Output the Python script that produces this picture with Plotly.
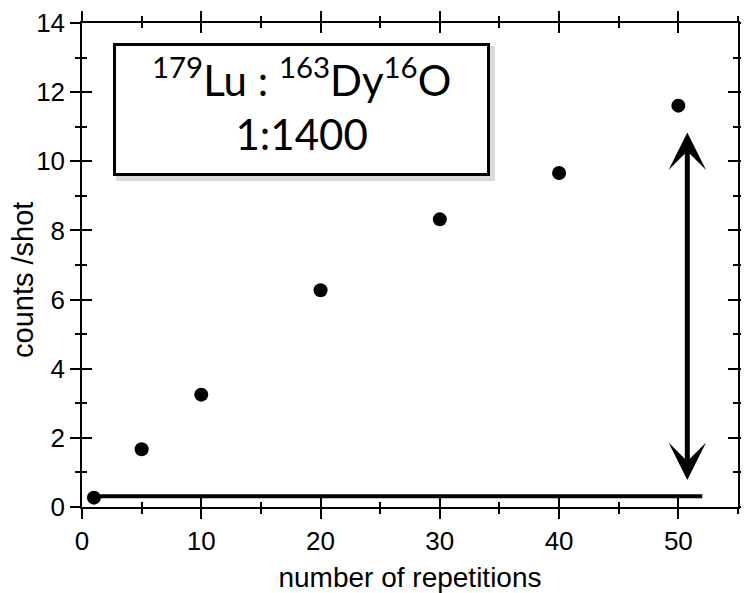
import plotly.graph_objects as go

# data
repetitions = [1, 5, 10, 20, 30, 40, 50]
counts_per_shot = [0.27, 1.67, 3.25, 6.27, 8.32, 9.66, 11.61]
baseline_x = [1, 52]
baseline_y = [0.31, 0.31]
arrow_x = 50.75
arrow_y_bottom = 0.74
arrow_y_top = 10.83
x_ticks = [0, 10, 20, 30, 40, 50]
y_ticks = [0, 2, 4, 6, 8, 10, 12, 14]

fig = go.Figure()
fig.add_trace(go.Scatter(x=baseline_x, y=baseline_y, mode="lines",
                         line=dict(color="black", width=4), showlegend=False, hoverinfo="skip"))
fig.add_trace(go.Scatter(x=repetitions, y=counts_per_shot, mode="markers",
                         marker=dict(color="black", size=14), showlegend=False))
# invisible trace on overlay axes (for inside ticks)
fig.add_trace(go.Scatter(x=[0], y=[0], xaxis="x2", yaxis="y2", mode="markers",
                         marker=dict(opacity=0), showlegend=False, hoverinfo="skip"))

tickfont = dict(family="Liberation Sans, Arial", size=26, color="black")
common = dict(showgrid=False, zeroline=False, linecolor="black", linewidth=1.5,
              tickcolor="black", tickwidth=1.5, automargin=False)

# page body has an 8px margin, so the figure is offset by 8px
fig.update_layout(
    width=741, height=585,
    margin=dict(l=74, r=11, t=15, b=86),
    plot_bgcolor="white", paper_bgcolor="white",
    xaxis=dict(range=[0, 55], tickvals=x_ticks, ticks="outside", ticklen=10,
               showline=True, mirror="ticks", tickfont=tickfont,
               minor=dict(dtick=5, tick0=0, ticks="outside", ticklen=5, tickcolor="black", tickwidth=1.5),
               title=dict(text="number of repetitions", standoff=23,
                          font=dict(family="Liberation Sans, Arial", size=28, color="black")),
               **common),
    yaxis=dict(range=[0, 14], tickvals=y_ticks, ticks="outside", ticklen=10,
               showline=True, mirror="ticks", tickfont=tickfont,
               minor=dict(dtick=1, tick0=0, ticks="outside", ticklen=5, tickcolor="black", tickwidth=1.5),
               **common),
    xaxis2=dict(range=[0, 55], overlaying="x", side="bottom", tickvals=x_ticks, ticks="inside",
                ticklen=10, showline=False, mirror="ticks", showticklabels=False,
                minor=dict(dtick=5, tick0=0, ticks="inside", ticklen=5, tickcolor="black", tickwidth=1.5),
                **common),
    yaxis2=dict(range=[0, 14], overlaying="y", side="left", tickvals=y_ticks, ticks="inside",
                ticklen=10, showline=False, mirror="ticks", showticklabels=False,
                minor=dict(dtick=1, tick0=0, ticks="inside", ticklen=5, tickcolor="black", tickwidth=1.5),
                **common),
)

# y-axis title
fig.add_annotation(x=-0.090, y=0.469, xref="paper", yref="paper", text="counts /shot",
                   textangle=-90, showarrow=False, xanchor="center", yanchor="middle",
                   font=dict(family="Liberation Sans, Arial", size=29, color="black"))

label_text = "<sup>179</sup>Lu : <sup>163</sup>Dy<sup>16</sup>O<br>1:1400"
# shadow
fig.add_annotation(x=18.4, y=11.5, xref="x", yref="y", text="", showarrow=False,
                   width=377, height=133, bgcolor="rgba(0,0,0,0.15)", borderwidth=0,
                   xshift=4, yshift=-4)
# box
fig.add_annotation(x=18.4, y=11.5, xref="x", yref="y", text="", showarrow=False,
                   width=371, height=127, bgcolor="white", bordercolor="black", borderwidth=3,
                   borderpad=0)
# box text
fig.add_annotation(x=18.4, y=11.5, xref="x", yref="y", text=label_text, showarrow=False,
                   yshift=5, font=dict(family="Lato, Carlito, Calibri", size=42, color="black"))
# double arrow
fig.add_annotation(x=arrow_x, y=arrow_y_top, ax=arrow_x, ay=arrow_y_bottom,
                   xref="x", yref="y", axref="x", ayref="y", text="", showarrow=True,
                   arrowside="end+start", arrowhead=3, startarrowhead=3,
                   arrowwidth=5, arrowsize=1.25, startarrowsize=1.25, arrowcolor="black")

fig.write_html("out.html")
